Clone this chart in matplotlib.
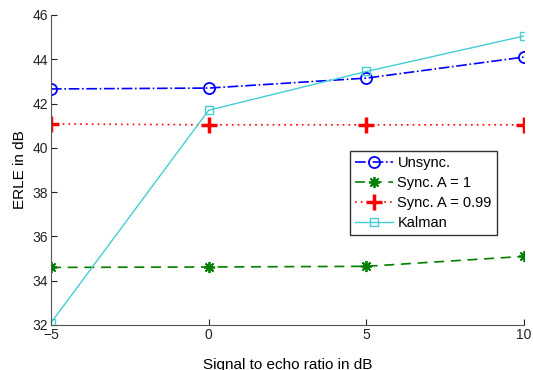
import matplotlib
matplotlib.use("Agg")
import matplotlib.pyplot as plt

plt.rcParams['font.family'] = ['Liberation Sans', 'DejaVu Sans']

# signal to echo ratio (dB)
ser = [-5, 0, 5, 10]
# ERLE results (dB)
unsync = [42.66, 42.70, 43.15, 44.10]
sync_a1 = [34.60, 34.62, 34.65, 35.10]
sync_a099 = [41.08, 41.04, 41.04, 41.04]
kalman = [32.10, 41.70, 43.45, 45.05]

xticks = [-5, 0, 5, 10]
yticks = [32, 34, 36, 38, 40, 42, 44, 46]

fig = plt.figure(figsize=(5.33, 3.70), dpi=100)
ax = fig.add_axes([51 / 533, 1 - 325 / 370, 473 / 533, 310 / 370])

ax.plot(ser, unsync, color='blue', linestyle='-.', marker='o', markersize=8,
        markerfacecolor='none', markeredgewidth=1.3, linewidth=1.2, label='Unsync.')
ax.plot(ser, sync_a1, color='green', linestyle=(0, (6, 4)), marker=(8, 2, 0), markersize=8,
        markeredgewidth=1.3, linewidth=1.2, label='Sync. A = 1')
ax.plot(ser, sync_a099, color='red', linestyle=(0, (1, 2.5)), marker='+', markersize=11,
        markeredgewidth=2.5, linewidth=1.2, label='Sync. A = 0.99')
ax.plot(ser, kalman, color='#45cdd5', linestyle='-', marker='s', markersize=6,
        markerfacecolor='none', linewidth=1.0, label='Kalman')

ax.set_xlim(-5, 10)
ax.set_ylim(32, 46)
ax.set_xticks(xticks)
ax.set_yticks(yticks)
ax.tick_params(direction='in', length=4, labelsize=10, colors='#222222', pad=2)
for s in ['top', 'right']:
    ax.spines[s].set_visible(False)
for s in ['left', 'bottom']:
    ax.spines[s].set_color('#555555')

ax.set_ylabel('ERLE in dB', fontsize=11)
ax.set_xlabel('Signal to echo ratio in dB', fontsize=11, labelpad=12)

leg = ax.legend(loc='upper left', bbox_to_anchor=(299 / 473, 1 - 136 / 310), fontsize=10.5,
                handlelength=2.6, handletextpad=0.3, borderpad=0.35, labelspacing=0.4,
                borderaxespad=0, fancybox=False, framealpha=1)
leg.get_frame().set_edgecolor('#333333')
leg.get_frame().set_linewidth(1.0)

fig.savefig('out.png', dpi=100)
